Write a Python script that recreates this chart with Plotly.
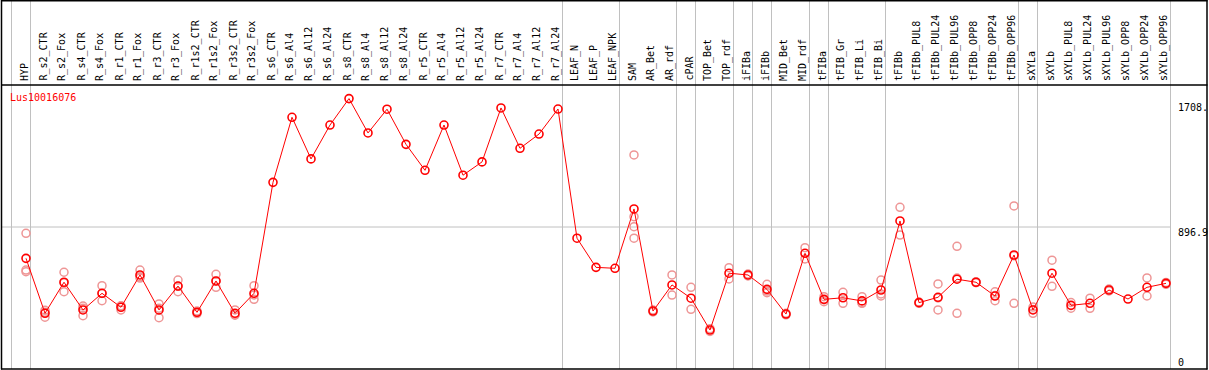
import plotly.graph_objects as go

W, H = 1209, 370

categories = ["HYP", "R_s2_CTR", "R_s2_Fox", "R_s4_CTR", "R_s4_Fox", "R_r1_CTR", "R_r1_Fox",
              "R_r3_CTR", "R_r3_Fox", "R_r1s2_CTR", "R_r1s2_Fox", "R_r3s2_CTR", "R_r3s2_Fox",
              "R_s6_CTR", "R_s6_Al4", "R_s6_Al12", "R_s6_Al24", "R_s8_CTR", "R_s8_Al4", "R_s8_Al12",
              "R_s8_Al24", "R_r5_CTR", "R_r5_Al4", "R_r5_Al12", "R_r5_Al24", "R_r7_CTR", "R_r7_Al4",
              "R_r7_Al12", "R_r7_Al24", "LEAF_N", "LEAF_P", "LEAF_NPK", "SAM", "AR_Bet", "AR_rdf",
              "cPAR", "TOP_Bet", "TOP_rdf", "iFIBa", "iFIBb", "MID_Bet", "MID_rdf", "tFIBa",
              "tFIB_Gr", "tFIB_Li", "tFIB_Bi", "tFIBb", "tFIBb_PUL8", "tFIBb_PUL24", "tFIBb_PUL96",
              "tFIBb_OPP8", "tFIBb_OPP24", "tFIBb_OPP96", "sXYLa", "sXYLb", "sXYLb_PUL8",
              "sXYLb_PUL24", "sXYLb_PUL96", "sXYLb_OPP8", "sXYLb_OPP24", "sXYLb_OPP96"]

means = [699, 352, 548, 373, 478, 390, 594, 373, 524, 358, 556, 352, 478,
         1179, 1590, 1327, 1541, 1708, 1491, 1641, 1419, 1255, 1541, 1224, 1308, 1649, 1394, 1484, 1642,
         826, 642, 636, 1011, 366, 531, 447, 246, 605, 594, 503, 347, 731, 440, 450, 430, 499,
         935, 419, 453, 567, 548, 461, 720, 373, 605, 402, 415, 499, 442, 516, 541]

replicates = [[857, 615, 625], [358, 327, 371], [611, 488, 545], [398, 337, 384], [526, 431, 477],
              [398, 373, 399], [625, 583, 574], [411, 324, 384], [562, 488, 522], [367, 350, 357],
              [598, 516, 554], [373, 343, 340], [526, 440, 468],
              [], [], [], [], [], [], [], [], [], [], [], [], [], [], [], [],
              [], [], [], [1352, 962, 899, 826], [360, 372], [594, 467], [516, 377], [237, 255],
              [640, 569], [588, 600], [535, 482, 492], [342, 352], [766, 695], [457, 425, 438],
              [484, 415], [457, 415, 418], [562, 461, 474], [1021, 846], [415, 423],
              [537, 373, 449], [775, 352, 574], [545, 551], [488, 431, 464], [1030, 415, 715],
              [352, 376, 391], [687, 522], [420, 384], [447, 383], [505, 493], [],
              [575, 461], [535, 547]]

group_ends = [-1, 0, 28, 31, 34, 35, 37, 38, 39, 41, 42, 45, 52, 53, 60]

gene = "Lus10016076"
y_max_label = "1708."
y_mid_label = "896.9"
y_min_label = "0"
y_top = 1793.8
y_mid = 896.9


def px(x):
    return x / W


def py(y):
    return (H - y) / H


n = len(categories)
xs = list(range(n))
# pixel layout: column i at 26 + 19*i ; data area from x=1 to x=1170
x0 = (1 - 26) / 19
x1 = (1170 - 26) / 19

rx, ry = [], []
for i, r in enumerate(replicates):
    for v in r:
        rx.append(i)
        ry.append(v)

fig = go.Figure()
fig.add_trace(go.Scatter(x=rx, y=ry, mode="markers",
                         marker=dict(symbol="circle-open", size=8, color="rgb(238,150,150)",
                                     line=dict(width=1.5)),
                         hoverinfo="skip", showlegend=False, cliponaxis=False))
fig.add_trace(go.Scatter(x=xs, y=means, mode="lines+markers",
                         line=dict(color="#ff0000", width=1),
                         marker=dict(symbol="circle-open", size=8, color="#ff0000",
                                     line=dict(width=1.6)),
                         showlegend=False, cliponaxis=False))

shapes = []
gray = "#c0c0c0"
# group separators
for g in group_ends:
    xp = 26 + 19 * g + 4.5
    shapes.append(dict(type="line", xref="paper", yref="paper", x0=px(xp), x1=px(xp),
                       y0=py(0), y1=py(369), line=dict(color=gray, width=1), layer="below"))
# mid gridline
shapes.append(dict(type="line", xref="paper", yref="y", x0=px(1), x1=px(1170),
                   y0=y_mid, y1=y_mid, line=dict(color=gray, width=1), layer="below"))
# frame
blk = dict(color="black", width=1.5)
shapes.append(dict(type="line", xref="paper", yref="paper", x0=px(1), x1=px(1207.5), y0=py(0.8), y1=py(0.8), line=blk))
shapes.append(dict(type="line", xref="paper", yref="paper", x0=px(1), x1=px(1207.5), y0=py(85), y1=py(85), line=blk))
shapes.append(dict(type="line", xref="paper", yref="paper", x0=px(1), x1=px(1207.5), y0=py(369), y1=py(369), line=blk))
shapes.append(dict(type="line", xref="paper", yref="paper", x0=px(1.5), x1=px(1.5), y0=py(0), y1=py(369.5), line=blk))
shapes.append(dict(type="line", xref="paper", yref="paper", x0=px(1207), x1=px(1207), y0=py(0), y1=py(369.5), line=blk))

mono = "DejaVu Sans Mono"
annotations = []
for i, c in enumerate(categories):
    annotations.append(dict(x=i - 2 / 19, xref="x", y=py(83), yref="paper", text=c, textangle=-90,
                            xanchor="center", yanchor="bottom", showarrow=False,
                            font=dict(family=mono, size=10, color="black")))
annotations.append(dict(x=px(8), y=py(97), xref="paper", yref="paper", text=gene,
                        xanchor="left", yanchor="middle", showarrow=False,
                        font=dict(family=mono, size=10, color="#ff0000")))
for txt, yc in [(y_max_label, 107), (y_mid_label, 232), (y_min_label, 362)]:
    annotations.append(dict(x=px(1176), y=py(yc), xref="paper", yref="paper", text=txt,
                            xanchor="left", yanchor="middle", showarrow=False,
                            font=dict(family=mono, size=10, color="black")))

fig.update_layout(
    width=W, height=H,
    margin=dict(l=0, r=0, t=0, b=0, pad=0),
    paper_bgcolor="white", plot_bgcolor="white",
    xaxis=dict(range=[x0, x1], domain=[px(1), px(1170)], showgrid=False, zeroline=False,
               showticklabels=False, showline=False, ticks=""),
    yaxis=dict(range=[0, y_top], domain=[py(369), py(85)], showgrid=False, zeroline=False,
               showticklabels=False, showline=False, ticks=""),
    shapes=shapes, annotations=annotations, showlegend=False,
)

fig.write_html("out.html", config={"displayModeBar": False},
               post_script="document.body.style.margin='0px';document.body.style.overflow='hidden';")
